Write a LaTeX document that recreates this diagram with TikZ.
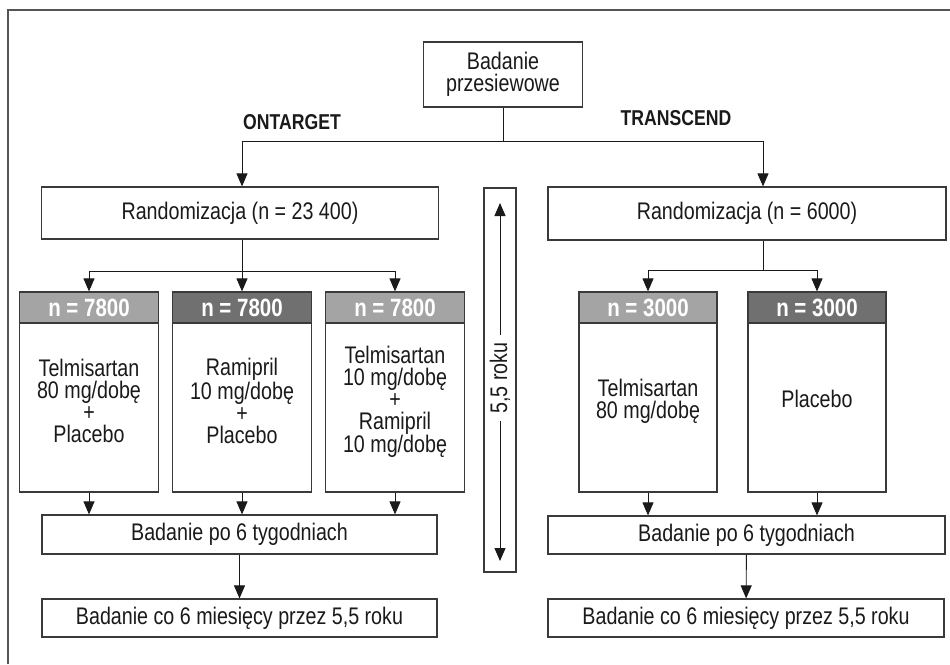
\documentclass[tikz,border=0pt]{standalone}
\usepackage{fontspec}
\setmainfont{Liberation Sans}[FakeStretch=0.82]
\usetikzlibrary{arrows.meta}
\definecolor{hdlight}{HTML}{A4A4A4}
\definecolor{hddark}{HTML}{707070}
\definecolor{ink}{HTML}{1A1A1A}
\definecolor{edge}{HTML}{3A3A3A}
\definecolor{frm}{HTML}{555555}
\begin{document}
\begin{tikzpicture}[x=1pt,y=-1pt,
  box/.style={draw=edge, line width=1.2pt, fill=white, inner sep=0pt, align=center, text=ink, font=\fontsize{24}{22}\selectfont},
  txt/.style={inner sep=0pt, align=center, text=ink, font=\fontsize{24}{22}\selectfont},
  hdr/.style={draw=edge, line width=1.2pt, inner sep=0pt, text=white, font=\bfseries\fontsize{25}{25}\selectfont},
  arr/.style={draw=ink, line width=0.9pt, -{Triangle[length=13pt,width=11pt]}},
  ln/.style={draw=ink, line width=0.9pt},
  lbl/.style={font=\bfseries\fontsize{21.5}{21.5}\selectfont, text=ink}]
\useasboundingbox (0,0) rectangle (950,664);
\draw[draw=frm, line width=2pt] (8,664) -- (8,10) -- (950,10);

% top
\node[box, minimum width=159pt, minimum height=65pt] (scr) at (503,74.5) {Badanie\\przesiewowe};
\node[lbl] (ont) at (292,122) {ONTARGET};
\node[lbl] (trn) at (676,118) {TRANSCEND};
\coordinate (j0) at (503,141);

% randomization
\node[box, minimum width=397pt, minimum height=52pt] (randL) at (240,213) {Randomizacja (n = 23 400)};
\node[box, minimum width=398pt, minimum height=53pt] (randR) at (747,213.5) {Randomizacja (n = 6000)};

% left arms
\node[box, minimum width=139pt, minimum height=169pt] (b1) at (89,407.5) {};
\node[txt] (t1) at (89,401) {Telmisartan\\80 mg/dobę\\+\\Placebo};
\node[hdr, fill=hdlight, minimum width=139pt, minimum height=31pt] (h1) at (89,307.5) {n = 7800};
\node[box, minimum width=139pt, minimum height=169pt] (b2) at (242,407.5) {};
\node[txt] (t2) at (242,401) {Ramipril\\10 mg/dobę\\+\\Placebo};
\node[hdr, fill=hddark, minimum width=139pt, minimum height=31pt] (h2) at (242,307.5) {n = 7800};
\node[box, minimum width=139pt, minimum height=169pt] (b3) at (395,407.5) {};
\node[txt] (t3) at (395,402) {Telmisartan\\10 mg/dobę\\+\\Ramipril\\10 mg/dobę};
\node[hdr, fill=hdlight, minimum width=139pt, minimum height=31pt] (h3) at (395,307.5) {n = 7800};

% right arms
\node[box, minimum width=138pt, minimum height=169pt] (c1) at (648,407.5) {};
\node[txt] (u1) at (648,401) {Telmisartan\\80 mg/dobę};
\node[hdr, fill=hdlight, minimum width=138pt, minimum height=31pt] (g1) at (648,307.5) {n = 3000};
\node[box, minimum width=138pt, minimum height=169pt] (c2) at (817,407.5) {};
\node[txt] (u2) at (817,399) {Placebo};
\node[hdr, fill=hddark, minimum width=138pt, minimum height=31pt] (g2) at (817,307.5) {n = 3000};

% follow-up
\node[box, minimum width=395pt, minimum height=39pt] (badL) at (239.5,534.5) {Badanie po 6 tygodniach};
\node[box, minimum width=397pt, minimum height=38pt] (badR) at (746.5,535) {Badanie po 6 tygodniach};
\node[box, minimum width=395pt, minimum height=38pt] (botL) at (239.5,618) {Badanie co 6 miesięcy przez 5,5 roku};
\node[box, minimum width=396pt, minimum height=38pt] (botR) at (746,618) {Badanie co 6 miesięcy przez 5,5 roku};

% duration bar
\node[draw=edge, line width=1.2pt, minimum width=32pt, minimum height=384pt, inner sep=0pt] (vbox) at (500,380) {};
\node[rotate=90, fill=white, inner xsep=7pt, inner ysep=0pt, text=ink, font=\fontsize{24}{22}\selectfont] (vl) at (500,378) {5,5 roku};
\coordinate (vt) at (500,203);
\coordinate (vb) at (500,561);
\draw[arr] (vl) -- (vt);
\draw[arr] (vl) -- (vb);

% connectors top
\draw[ln] (scr) -- (j0);
\draw[arr] (j0) -| (randL.north -| h2);
\coordinate (jR) at (763,270);
\draw[arr] (j0) -| (randR.north -| jR);

% left split
\coordinate (jL) at (242,271);
\draw[ln] (randL.south -| h2) -- (jL);
\draw[arr] (jL) -| (h1);
\draw[arr] (jL) -- (h2);
\draw[arr] (jL) -| (h3);

% right split
\draw[ln] (randR.south -| jR) -- (jR);
\draw[arr] (jR) -| (g1);
\draw[arr] (jR) -| (g2);

% to follow-up
\foreach \b in {b1,b2,b3} \draw[arr] (\b.south) -- (\b.south |- badL.north);
\foreach \b in {c1,c2} \draw[arr] (\b.south) -- (\b.south |- badR.north);
\draw[arr] (badL) -- (botL);
\draw[arr] (badR) -- (botR);
\end{tikzpicture}
\end{document}
